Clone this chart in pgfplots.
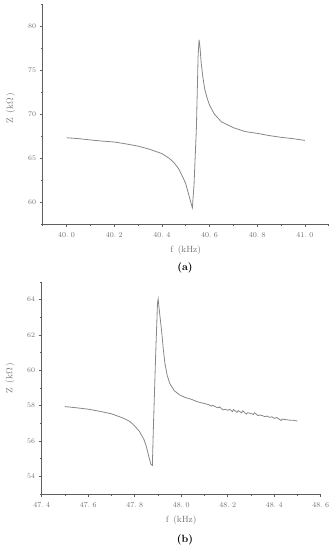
\documentclass[border=0pt]{standalone}
\usepackage{pgfplots}
\pgfplotsset{compat=1.18}
\definecolor{axgray}{RGB}{95,95,95}
\definecolor{txtgray}{RGB}{115,115,115}
\definecolor{curvegray}{RGB}{135,135,135}
\pgfplotsset{
  myax/.style={
    scale only axis,
    axis lines=left,
    axis line style={-, axgray, line width=0.9pt},
    tick align=outside,
    major tick length=3pt,
    minor tick length=1.8pt,
    every tick/.style={axgray, line width=0.7pt},
    tick label style={font=\fontsize{7.5}{8}\selectfont, text=txtgray},
    label style={font=\fontsize{9}{10}\selectfont, text=txtgray},
    xticklabel style={yshift=-1.5pt},
    clip=false,
  }
}
\begin{document}
\begin{tikzpicture}
\useasboundingbox (0pt,0pt) rectangle (334pt,550pt);
% ---------------- (a)
\begin{axis}[myax,
  at={(42.7pt,326pt)}, anchor=south west,
  width=286pt, height=220pt,
  xmin=39.9, xmax=41.1, ymin=57.5, ymax=82.5,
  xtick={40,40.2,40.4,40.6,40.8,41},
  xticklabels={40.\ 0,40.\ 2,40.\ 4,40.\ 6,40.\ 8,41.\ 0},
  minor xtick={39.9,40.1,40.3,40.5,40.7,40.9,41.1},
  ytick={60,65,70,75,80},
  minor ytick={57.5,62.5,67.5,72.5,77.5,82.5},
  xlabel={f\enspace(kHz)},
  ylabel={Z\enspace(k$\Omega$\,)},
  xlabel style={at={(axis description cs:0.5,0)}, anchor=center, yshift=-26pt},
  every axis y label/.style={at={(axis description cs:0,0.527)}, anchor=center, xshift=-32pt, rotate=90, font=\fontsize{9}{10}\selectfont, text=txtgray},
]
\addplot[curvegray, line width=0.8pt] coordinates {
(40.00,67.30) (40.05,67.20) (40.10,67.05) (40.15,66.92) (40.20,66.82)
(40.25,66.60) (40.30,66.35) (40.35,65.98) (40.40,65.50) (40.43,64.98)
(40.45,64.50) (40.47,63.80) (40.49,62.70) (40.50,62.10) (40.51,61.10)
(40.52,60.10) (40.528,59.35) (40.535,62.0) (40.545,68.5) (40.552,76.5)
(40.556,78.45) (40.560,77.6) (40.565,75.8) (40.572,74.2) (40.58,72.8)
(40.59,71.8) (40.60,71.0) (40.62,70.0) (40.65,69.1) (40.70,68.45)
(40.75,68.0) (40.80,67.8) (40.85,67.55) (40.90,67.35) (40.95,67.2)
(41.00,67.0)
};
\end{axis}
\node[font=\fontsize{10.5}{12}\selectfont\bfseries] at (185pt,282pt) {(a)};
% ---------------- (b)
\begin{axis}[myax,
  at={(41.7pt,56pt)}, anchor=south west,
  width=279pt, height=212pt,
  xmin=47.4, xmax=48.6, ymin=53, ymax=65,
  xtick={47.4,47.6,47.8,48.0,48.2,48.4,48.6},
  xticklabels={47.\ 4,47.\ 6,47.\ 8,48.\ 0,48.\ 2,48.\ 4,48.\ 6},
  minor xtick={47.5,47.7,47.9,48.1,48.3,48.5},
  ytick={54,56,58,60,62,64},
  minor ytick={53,55,57,59,61,63,65},
  xlabel={f\enspace(kHz)},
  ylabel={Z\enspace(k$\Omega$\,)},
  xlabel style={at={(axis description cs:0.5,0)}, anchor=center, yshift=-26pt},
  every axis y label/.style={at={(axis description cs:0,0.547)}, anchor=center, xshift=-31.7pt, rotate=90, font=\fontsize{9}{10}\selectfont, text=txtgray},
]
\addplot[curvegray, line width=0.8pt] coordinates {
(47.50,57.95) (47.55,57.88) (47.60,57.80) (47.65,57.68) (47.70,57.54)
(47.75,57.30) (47.78,57.10) (47.80,56.85) (47.82,56.55) (47.84,56.08)
(47.85,55.70) (47.86,55.15) (47.870,54.68) (47.876,54.62) (47.880,56.6)
(47.890,60.8) (47.898,63.8) (47.901,64.04) (47.905,63.5) (47.910,62.9)
(47.916,62.2) (47.923,61.2) (47.930,60.4) (47.940,59.7) (47.951,59.25)
(47.970,58.85) (47.994,58.60) (48.02,58.45) (48.044,58.36) (48.07,58.22)
(48.10,58.12) (48.12,58.05) (48.13,57.97) (48.135,58.02) (48.15,57.92)
(48.16,57.88) (48.165,57.93) (48.18,57.76) (48.19,57.80) (48.20,57.74)
(48.21,57.79) (48.22,57.66) (48.225,57.78) (48.24,57.62) (48.245,57.72)
(48.26,57.60) (48.265,57.71) (48.28,57.52) (48.285,57.60) (48.30,57.56)
(48.31,57.50) (48.315,57.60) (48.33,57.44) (48.34,57.47) (48.35,57.43)
(48.36,57.38) (48.37,57.41) (48.38,57.34) (48.39,57.37) (48.40,57.28)
(48.41,57.33) (48.42,57.25) (48.43,57.16) (48.435,57.24) (48.45,57.21)
(48.46,57.19) (48.47,57.17) (48.48,57.18) (48.49,57.15) (48.50,57.13)
};
\end{axis}
\node[font=\fontsize{10.5}{12}\selectfont\bfseries] at (185pt,10pt) {(b)};
\end{tikzpicture}
\end{document}
